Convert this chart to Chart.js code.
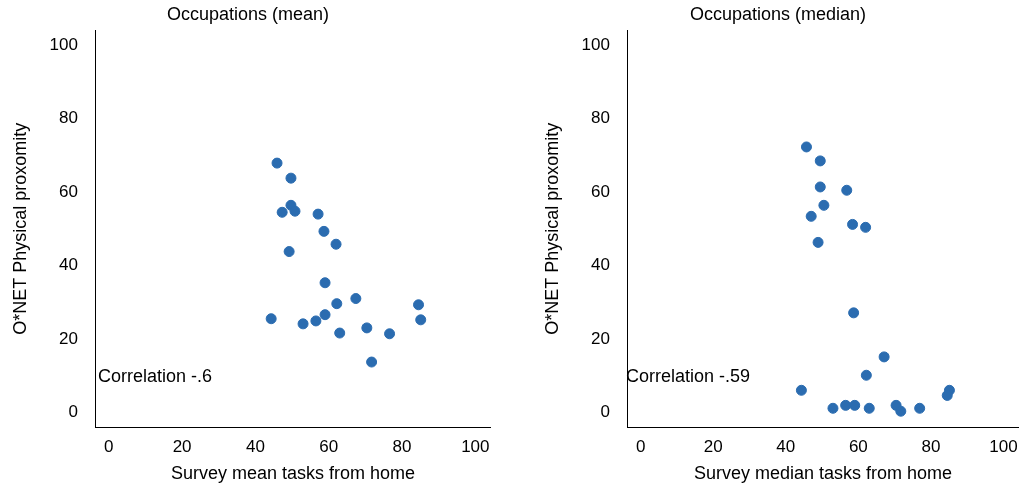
<!DOCTYPE html>
<html><head><meta charset="utf-8">
<script src="https://cdn.jsdelivr.net/npm/chart.js@4"></script>
<style>body{margin:0;background:#fff}.w{display:flex;width:1024px;height:487px}.c{position:relative;width:512px;height:487px}</style>
</head><body><div class="w"><div class="c"><canvas id="a"></canvas></div><div class="c"><canvas id="b"></canvas></div></div>
<script>
const meanX=[45.9,49.7,47.3,49.7,50.8,49.2,57.1,58.7,62.0,59.0,67.4,62.2,84.5,59.0,44.3,53.0,56.5,85.1,63.0,70.4,76.6,71.7];
const meanY=[67.9,63.8,54.5,56.4,54.8,43.8,54.0,49.3,45.8,35.3,31.0,29.6,29.3,26.6,25.5,24.1,24.9,25.2,21.6,23.0,21.4,13.7];
const medX=[45.7,49.5,49.5,56.8,47.0,50.5,48.9,58.4,62.0,58.7,67.1,62.2,44.3,53.0,56.5,59.0,63.0,70.4,71.7,76.9,85.1,84.5];
const medY=[72.3,68.5,61.4,60.5,53.4,56.4,46.3,51.2,50.4,27.1,15.1,10.1,6.0,1.1,1.9,1.9,1.1,1.9,0.3,1.1,6.0,4.6];
const tickVals=[0,20,40,60,80,100];
const F='"Liberation Sans", Arial, sans-serif';
function mk(id,xs,ys,title,xl,corr,padL,padR,corrOff){
  const corrPlugin={id:'corr',afterDatasetsDraw(c){const ctx=c.ctx;ctx.save();ctx.font='18px '+F;ctx.fillStyle='#000';ctx.textBaseline='middle';ctx.fillText(corr,c.scales.x.left+corrOff,c.scales.y.getPixelForValue(9.5));ctx.restore();}};
  new Chart(document.getElementById(id),{type:'scatter',
    data:{datasets:[{data:xs.map((x,i)=>({x,y:ys[i]})),backgroundColor:'#2b6cb0',borderColor:'#2b6cb0',pointRadius:5}]},
    plugins:[corrPlugin],
    options:{responsive:true,maintainAspectRatio:false,animation:false,
      layout:{padding:{left:padL,right:padR,top:0,bottom:0}},
      plugins:{legend:{display:false},tooltip:{enabled:false},title:{display:true,text:title,color:'#000',font:{family:F,size:18,weight:'normal'},padding:{top:4,bottom:5}}},
      scales:{
        x:{min:-3.5,max:104,afterBuildTicks(s){s.ticks=tickVals.map(v=>({value:v}));},grid:{display:false},border:{color:'#000'},
           ticks:{color:'#000',font:{family:F,size:17},padding:2},title:{display:true,text:xl,color:'#000',font:{family:F,size:18},padding:{top:4,bottom:2}}},
        y:{min:-4,max:104,afterBuildTicks(s){s.ticks=tickVals.map(v=>({value:v}));},grid:{display:false},border:{color:'#000'},
           ticks:{color:'#000',font:{family:F,size:17},padding:10},title:{display:true,text:'O*NET Physical proxomity',color:'#000',font:{family:F,size:18},padding:{bottom:8}}}
      }}});
}
mk('a',meanX,meanY,'Occupations (mean)','Survey mean tasks from home','Correlation -.6',6,22,2);
mk('b',medX,medY,'Occupations (median)','Survey median tasks from home','Correlation -.59',26,6,-2);
</script></body></html>
